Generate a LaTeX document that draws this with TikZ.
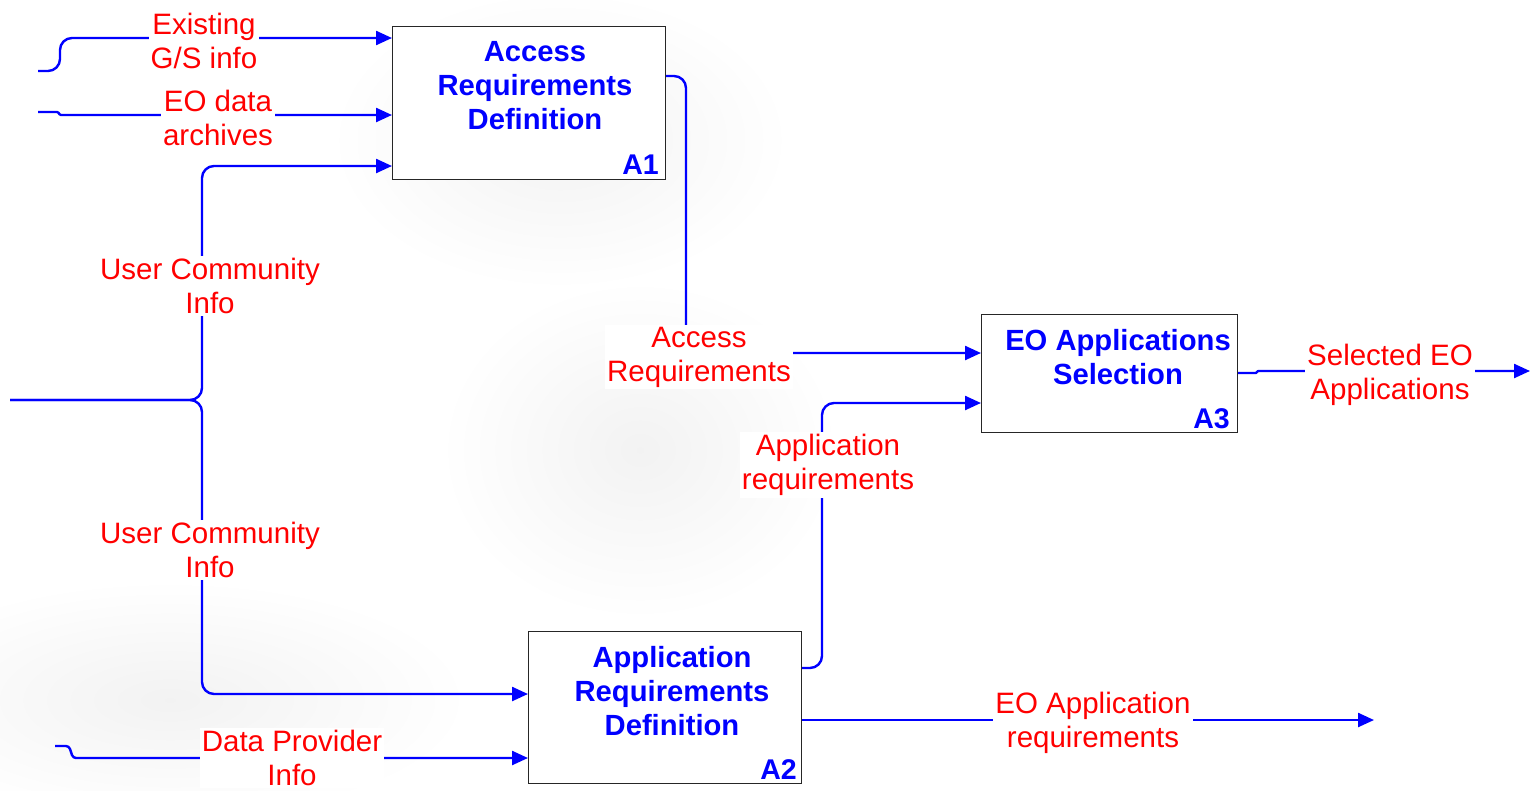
\documentclass[tikz,border=0pt]{standalone}
\usepackage{fontspec}
\setmainfont{Liberation Sans}
\usetikzlibrary{arrows.meta,calc}
\definecolor{flowblue}{RGB}{0,0,255}
\definecolor{labelred}{RGB}{255,0,0}
\tikzset{
  procbox/.style={draw=black!85, line width=1pt, fill=white, anchor=north west, inner sep=0pt},
  proctitle/.style={text=flowblue, font=\fontsize{29.2}{34}\selectfont\bfseries, align=center, inner sep=0pt},
  procid/.style={text=flowblue, font=\fontsize{28.5}{34}\selectfont\bfseries, anchor=south east, inner sep=0pt},
  flow/.style={draw=flowblue, line width=2.4pt, rounded corners=12pt},
  flowin/.style={flow, -{Triangle[length=16pt,width=14pt]}},
  flowlabel/.style={fill=white, text=labelred, font=\fontsize{29.5}{34}\selectfont, align=center, inner xsep=2pt, inner ysep=2pt},
  haze/.style={inner color=black!5, outer color=white}
}
\begin{document}
\begin{tikzpicture}[x=1pt,y=-1pt]
\useasboundingbox (0,0) rectangle (1530,790);
\fill[white] (0,0) rectangle (1530,790);

% faint cloudy backdrop
\shade[haze] (560,140) ellipse [x radius=230, y radius=150];
\shade[haze] (640,450) ellipse [x radius=200, y radius=170];
\shade[haze] (170,700) ellipse [x radius=300, y radius=120];

% process boxes
\node[procbox, minimum width=273pt, minimum height=153pt] (A1) at (392,26) {};
\node[procbox, minimum width=273pt, minimum height=152pt] (A2) at (528,631) {};
\node[procbox, minimum width=256pt, minimum height=118pt] (A3) at (981,314) {};

\node[proctitle] (A1t) at (535,86) {Access\\Requirements\\Definition};
\node[proctitle] (A2t) at (672,691) {Application\\Requirements\\Definition};
\node[proctitle] (A3t) at (1118,357) {EO Applications\\Selection};
\node[procid] (A1n) at ($(A1.south east)+(-7,-5)$) {A1};
\node[procid] (A2n) at ($(A2.south east)+(-5,-4)$) {A2};
\node[procid] (A3n) at ($(A3.south east)+(-8,-4)$) {A3};

% free ends of the connectors
\coordinate (gsIn) at (38,71);
\coordinate (arcIn) at (38,112);
\coordinate (ucIn) at (10,400);
\coordinate (dpIn) at (55,746);
\coordinate (selOut) at (1530,371);
\coordinate (reqOut) at (1374,720);

% inputs to A1
\draw[flowin] (gsIn) -- (60,71) -- (60,38) -- (A1.west |- 0,38);
\draw[flowin, rounded corners=1pt] (arcIn) -- (58,112) -- (60,115) -- (A1.west |- 0,115);
\draw[flowin] (ucIn) -- (202,400) -- (202,166) -- (A1.west |- 0,166);
% inputs to A2
\draw[flowin] (ucIn) -- (202,400) -- (202,694) -- (A2.west |- 0,694);
\draw[flowin, rounded corners=3pt] (dpIn) -- (69,746) -- (73,758) -- (A2.west |- 0,758);
% A1 -> A3 and A2 -> A3
\draw[flowin] (A1.east |- 0,76) -- (686,76) -- (686,353) -- (A3.west |- 0,353);
\draw[flowin] (A2.east |- 0,668) -- (822,668) -- (822,403) -- (A3.west |- 0,403);
% outputs
\draw[flowin, rounded corners=0.5pt] (A3.east |- 0,373) -- (1256,373) -- (1258,371) -- (selOut);
\draw[flowin] (A2.east |- 0,720) -- (reqOut);

% connector labels
\node[flowlabel] (lgs) at (204,41) {Existing\\G/S info};
\node[flowlabel] (larc) at (218,118) {EO data\\archives};
\node[flowlabel] (luc1) at (210,286) {User Community\\Info};
\node[flowlabel] (luc2) at (210,550) {User Community\\Info};
\node[flowlabel] (ldp) at (292,758) {Data Provider\\Info};
\node[flowlabel] (lacc) at (699,357) {Access\\Requirements};
\node[flowlabel] (lapp) at (828,465) {Application\\requirements};
\node[flowlabel] (lsel) at (1390,375) {Selected EO\\Applications};
\node[flowlabel] (lreq) at (1093,723) {EO Application\\requirements};
\end{tikzpicture}
\end{document}
